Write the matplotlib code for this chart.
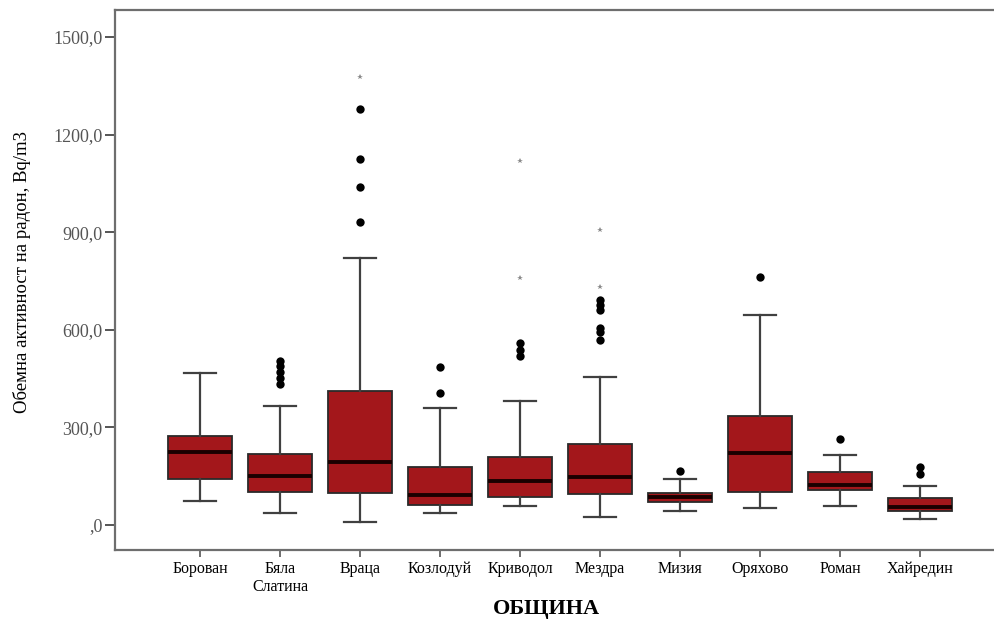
import matplotlib
matplotlib.use('Agg')
import matplotlib.pyplot as plt
from matplotlib.ticker import FuncFormatter

plt.rcParams['font.family'] = ['Liberation Serif', 'DejaVu Serif']

# municipalities (x categories)
municipalities = ['Борован', 'Бяла\nСлатина', 'Враца', 'Козлодуй', 'Криводол',
                  'Мездра', 'Мизия', 'Оряхово', 'Роман', 'Хайредин']

# box statistics, Bq/m3
whisker_low = [74, 36, 10, 36, 58, 24, 43, 51, 58, 18]
q1 = [140, 102, 97, 61, 85, 94, 69, 100, 106, 44]
median = [225, 150, 193, 92, 136, 148, 87, 220, 123, 54]
q3 = [273, 218, 412, 179, 210, 249, 99, 336, 164, 82]
whisker_high = [466, 366, 821, 358, 382, 454, 140, 645, 215, 121]

# outliers (circles) and extremes (asterisks)
outliers = [
    [],
    [505, 487, 471, 452, 433],
    [1278, 1124, 1039, 931],
    [484, 405],
    [558, 538, 519],
    [692, 676, 661, 605, 594, 567],
    [166],
    [761],
    [263],
    [179, 157],
]
extremes = [
    [],
    [],
    [1376],
    [],
    [1120, 759],
    [907, 731],
    [],
    [],
    [],
    [],
]

ticks_y = [0, 300, 600, 900, 1200, 1500]

fig = plt.figure(figsize=(9.95, 6.2), dpi=100)
ax = fig.add_axes([0.1156, 0.113, 0.8844, 0.871])

stats = []
for i in range(len(municipalities)):
    stats.append({'whislo': whisker_low[i], 'q1': q1[i], 'med': median[i],
                  'q3': q3[i], 'whishi': whisker_high[i], 'fliers': []})

positions = list(range(1, len(municipalities) + 1))
ax.bxp(stats, positions=positions, widths=0.8, patch_artist=True, showfliers=False,
       boxprops=dict(facecolor='#A3171B', edgecolor='#2a2a2a', linewidth=1.3),
       medianprops=dict(color='#1a0000', linewidth=2.8),
       whiskerprops=dict(color='#404040', linewidth=1.6),
       capprops=dict(color='#404040', linewidth=1.6),
       capwidths=0.4)

for p, vals in zip(positions, outliers):
    if vals:
        ax.plot([p] * len(vals), vals, 'o', color='black', markersize=6,
                markeredgewidth=0, linestyle='none')
for p, vals in zip(positions, extremes):
    if vals:
        ax.plot([p] * len(vals), vals, '*', color='#8a8a8a', markersize=4,
                markeredgewidth=0, linestyle='none')

ax.set_xlim(-0.0625, 10.9375)
ax.set_ylim(-77, 1583)
ax.set_xticks(positions)
ax.set_xticklabels(municipalities, fontsize=11.5)
ax.set_yticks(ticks_y)
ax.yaxis.set_major_formatter(FuncFormatter(
    lambda v, pos: ',0' if v == 0 else '{:.1f}'.format(v).replace('.', ',')))
ax.tick_params(axis='y', labelsize=13, labelcolor='#555555', color='#555555',
               length=7, width=1.4, pad=2)
ax.tick_params(axis='x', color='#555555', length=5, width=1.2, pad=3)

for side in ['left', 'bottom', 'top']:
    ax.spines[side].set_color('#6e6e6e')
    ax.spines[side].set_linewidth(1.6)
ax.spines['right'].set_visible(False)

ax.set_ylabel('Обемна активност на радон, Bq/m3', fontsize=13.5)
ax.yaxis.set_label_coords(-0.095, 0.515)
ax.set_xlabel('ОБЩИНА', fontsize=16, fontweight='bold')
ax.xaxis.set_label_coords(0.49, -0.09)

fig.savefig('out.png', dpi=100)
